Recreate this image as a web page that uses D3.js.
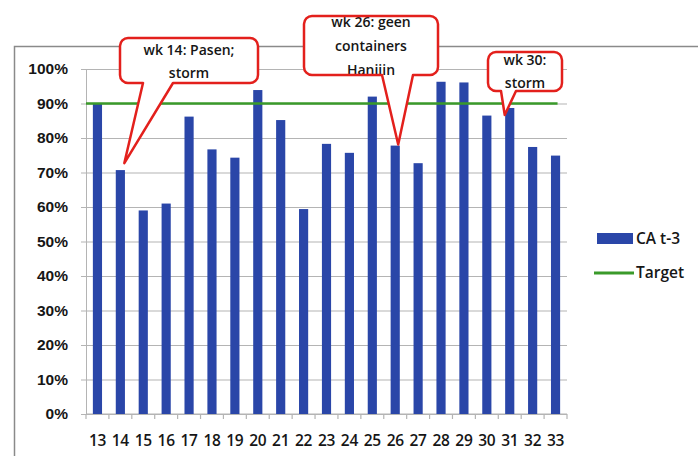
<!DOCTYPE html>
<html>
<head>
<meta charset="utf-8">
<script src="https://cdn.jsdelivr.net/npm/d3@7"></script>
<style>
  html, body { margin: 0; padding: 0; background: #fff; }
  svg { display: block; font-family: "Open Sans", Lato, sans-serif; }
</style>
</head>
<body>
<svg id="chart" width="698" height="456"></svg>
<script>
// Weekly CA t-3 score against the 90% target
const weeks = ["13","14","15","16","17","18","19","20","21","22","23","24","25","26","27","28","29","30","31","32","33"];
const caValues = [0.90,0.707,0.59,0.61,0.862,0.767,0.743,0.939,0.852,0.594,0.783,0.757,0.92,0.778,0.727,0.963,0.961,0.865,0.887,0.774,0.749];
const targetValues = weeks.map(() => 0.9);
const yTicks = [0,0.1,0.2,0.3,0.4,0.5,0.6,0.7,0.8,0.9,1.0];
const seriesNames = ["CA t-3", "Target"];

// Annotations: week, text lines
const notes = [
  { week: "14", lines: ["wk 14: Pasen;", "storm"] },
  { week: "26", lines: ["wk 26: geen", "containers", "Hanjiin"] },
  { week: "30", lines: ["wk 30:", "storm"], anchorWeek: "31" }
];

const svg = d3.select("#chart");
const W = 698, H = 456;
const plot = { left: 86, right: 567, top: 69, bottom: 414 };
const barColor = "#2a46a8";
const lineColor = "#3a9a2a";
const gridColor = "#b4b4b4";
const calloutColor = "#e3201c";
const textColor = "#161616";

// outer frame
svg.append("path")
  .attr("d", `M14.5,${H} L14.5,46.5 L${W},46.5`)
  .attr("fill", "none").attr("stroke", "#8a8a8a").attr("stroke-width", 1.5);

const x = d3.scaleBand().domain(weeks).range([plot.left, plot.right])
  .paddingInner(0.6).paddingOuter(0.3);
const y = d3.scaleLinear().domain([0, 1]).range([plot.bottom, plot.top]);
const cx = w => x(w) + x.bandwidth() / 2;

// horizontal gridlines + y axis
const yAxis = d3.axisLeft(y).tickValues(yTicks).tickFormat(d3.format(".0%"))
  .tickSize(-(plot.right - plot.left)).tickSizeOuter(0).tickPadding(14);
const gy = svg.append("g").attr("transform", `translate(${plot.left},0)`).call(yAxis);
gy.select(".domain").attr("stroke", gridColor);
gy.selectAll(".tick line").attr("stroke", gridColor).attr("stroke-width", 1.2)
  .attr("x1", -5);
gy.selectAll(".tick text").attr("font-size", 15.5).attr("font-weight", 600)
  .attr("fill", textColor).attr("x", -18);

// x axis with boundary ticks
const gx = svg.append("g").attr("transform", `translate(0,${plot.bottom})`);
gx.append("line").attr("x1", plot.left).attr("x2", plot.right)
  .attr("stroke", gridColor).attr("stroke-width", 1.2);
const step = x.step();
const bounds = d3.range(weeks.length + 1).map(i => plot.left + i * step);
gx.selectAll("line.tk").data(bounds).join("line").attr("class", "tk")
  .attr("x1", d => d).attr("x2", d => d).attr("y1", 0).attr("y2", 5)
  .attr("stroke", gridColor).attr("stroke-width", 1.2);
gx.selectAll("text").data(weeks).join("text")
  .attr("x", d => cx(d)).attr("y", 32)
  .attr("text-anchor", "middle").attr("font-size", 15.5).attr("font-weight", 600)
  .attr("letter-spacing", -0.3)
  .attr("fill", textColor).text(d => d);

// bars
svg.append("g").selectAll("rect").data(weeks).join("rect")
  .attr("x", d => x(d)).attr("width", x.bandwidth())
  .attr("y", (d, i) => y(caValues[i]))
  .attr("height", (d, i) => y(0) - y(caValues[i]))
  .attr("fill", barColor);

// target line
const line = d3.line().x((d, i) => i === 0 ? plot.left : cx(weeks[i]) + 2).y(d => y(d));
svg.append("path").datum(targetValues)
  .attr("d", line).attr("fill", "none")
  .attr("stroke", lineColor).attr("stroke-width", 2.5);

// legend
const lg = svg.append("g");
lg.append("rect").attr("x", 597).attr("y", 233).attr("width", 36).attr("height", 11).attr("fill", barColor);
lg.append("text").attr("x", 636).attr("y", 244).attr("font-size", 15.5).attr("font-weight", 600)
  .attr("fill", textColor).text(seriesNames[0]);
lg.append("line").attr("x1", 594).attr("x2", 634).attr("y1", 273).attr("y2", 273)
  .attr("stroke", lineColor).attr("stroke-width", 3);
lg.append("text").attr("x", 636).attr("y", 278).attr("font-size", 15.5).attr("font-weight", 600)
  .attr("fill", textColor).text(seriesNames[1]);

// callout boxes: rounded rectangle with a pointer down to the bar
const boxes = [
  { x0: 120, y0: 38, x1: 258, y1: 83, b0: 143, b1: 173, dx: 4, dy: -7, lineY: [55, 78] },
  { x0: 304, y0: 16, x1: 438, y1: 75, b0: 382, b1: 413, dx: 3, dy: -1, lineY: [27, 51, 75] },
  { x0: 488, y0: 52, x1: 562, y1: 91, b0: 501, b1: 516, dx: -5, dy: 7, lineY: [65, 88] }
];
const r = 8;
notes.forEach((n, k) => {
  const b = boxes[k];
  const wk = n.anchorWeek || n.week;
  const idx = weeks.indexOf(wk);
  const tx = cx(wk) + b.dx, ty = y(caValues[idx]) + b.dy;
  const p = d3.path();
  p.moveTo(b.x0 + r, b.y0);
  p.lineTo(b.x1 - r, b.y0);
  p.arcTo(b.x1, b.y0, b.x1, b.y0 + r, r);
  p.lineTo(b.x1, b.y1 - r);
  p.arcTo(b.x1, b.y1, b.x1 - r, b.y1, r);
  p.lineTo(b.b1, b.y1);
  p.lineTo(tx, ty);
  p.lineTo(b.b0, b.y1);
  p.lineTo(b.x0 + r, b.y1);
  p.arcTo(b.x0, b.y1, b.x0, b.y1 - r, r);
  p.lineTo(b.x0, b.y0 + r);
  p.arcTo(b.x0, b.y0, b.x0 + r, b.y0, r);
  p.closePath();
  const g = svg.append("g");
  const clipId = "clip" + k;
  g.append("clipPath").attr("id", clipId).append("rect")
    .attr("x", b.x0).attr("y", b.y0).attr("width", b.x1 - b.x0).attr("height", b.y1 - b.y0);
  g.append("path").attr("d", p.toString()).attr("fill", "#fff");
  const tg = g.append("g").attr("clip-path", `url(#${clipId})`);
  n.lines.forEach((t, j) => {
    tg.append("text").attr("x", (b.x0 + b.x1) / 2).attr("y", b.lineY[j])
      .attr("text-anchor", "middle").attr("font-size", 14).attr("font-weight", 600)
      .attr("fill", textColor).text(t);
  });
  g.append("path").attr("d", p.toString()).attr("fill", "none")
    .attr("stroke", calloutColor).attr("stroke-width", 2.5).attr("stroke-linejoin", "round");
});
</script>
</body>
</html>
